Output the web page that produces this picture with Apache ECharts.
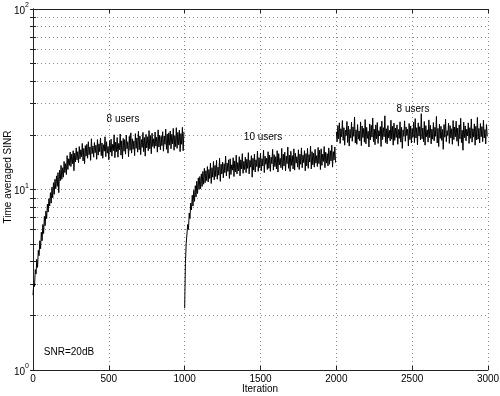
<!DOCTYPE html>
<html>
<head>
<meta charset="utf-8">
<script src="https://cdn.jsdelivr.net/npm/echarts@6/dist/echarts.min.js"></script>
<style>html,body{margin:0;padding:0;background:#fff}#c{width:500px;height:396px}</style>
</head>
<body>
<div id="c"></div>
<script>
// ---- data ----
const step = 5;
const seg1Start = 0;
const seg1 = [
2.6,3.0,2.9,3.6,3.4,4.1,3.7,4.6,4.3,5.2,
4.7,5.8,5.2,6.4,5.7,7.1,6.3,7.6,6.9,8.3,
7.5,8.9,8.1,9.6,8.4,10.3,9.0,10.9,9.4,11.4,
10.1,11.9,10.4,12.4,9.6,12.8,11.2,13.6,11.4,13.2,
11.7,14.3,12.4,13.9,12.1,15.4,12.9,14.8,13.6,16.1,
13.4,15.7,13.9,16.4,12.7,15.9,14.2,17.0,14.6,16.2,
14.1,17.3,14.8,16.6,15.2,18.0,14.4,16.9,13.9,17.5,
15.3,17.8,14.9,18.4,15.6,17.2,14.5,19.1,15.8,17.4,
15.1,18.2,16.0,17.6,14.7,18.9,15.5,17.9,16.2,19.3,
15.4,18.1,14.9,17.7,16.3,19.6,15.2,18.4,15.9,17.3,
14.6,18.7,16.1,19.0,15.3,17.8,16.4,20.1,15.0,18.3,
16.2,19.4,15.1,18.0,16.6,20.3,15.5,18.6,14.8,19.2,
16.3,18.9,15.7,20.0,16.8,18.4,15.2,19.7,16.5,20.6,
15.9,19.1,16.7,18.6,15.4,20.4,16.9,19.3,16.1,21.0,
16.6,19.8,15.6,18.9,17.1,20.7,16.2,19.4,15.3,20.2,
17.0,19.6,16.4,21.2,16.8,19.9,15.8,20.5,17.3,19.1,
16.9,20.8,17.4,19.5,16.1,21.4,17.2,20.0,16.6,19.7,
17.5,20.9,16.3,19.8,17.8,21.6,16.7,20.3,15.9,20.6,
17.6,21.1,16.8,20.2,17.9,21.8,16.5,19.9,17.3,22.0,
16.9,20.7,17.7,21.3,16.2,20.4,17.8,22.1,16.4,20.9];
const seg2Start = 1000;
const seg2 = [
2.2,3.9,5.0,5.1,6.4,6.0,7.4,6.9,8.4,7.7,
9.3,8.1,9.9,8.6,10.5,9.1,11.1,9.5,11.6,10.0,
11.8,10.1,12.2,10.4,12.6,10.7,13.1,10.9,12.7,11.2,
13.4,11.0,12.9,11.5,14.0,10.8,13.2,11.7,14.3,11.3,
13.6,11.8,14.5,11.4,13.3,12.0,14.9,11.1,13.8,12.2,
14.2,11.6,13.9,12.4,15.3,11.9,14.0,12.6,14.6,11.5,
14.8,12.1,13.7,12.8,15.0,11.8,14.4,12.5,15.5,12.2,
14.1,12.7,15.2,11.9,14.6,13.0,15.8,12.3,14.3,12.9,
15.1,12.4,14.7,13.1,16.0,12.2,14.5,13.3,15.4,11.7,
14.9,12.8,15.7,12.5,14.6,13.4,16.3,12.6,15.0,13.2,
15.9,12.7,14.8,13.5,16.5,12.4,15.3,13.8,14.9,12.9,
16.2,13.1,15.5,12.6,15.1,13.9,16.7,12.8,15.6,13.4,
15.2,13.0,16.4,12.5,15.8,13.7,14.9,13.2,16.9,12.9,
15.7,13.5,16.1,12.7,15.3,13.9,17.2,13.1,15.5,12.6,
16.3,13.6,15.4,13.0,16.8,12.8,15.9,14.0,15.2,13.3,
16.6,12.9,15.7,13.8,17.0,13.2,15.5,14.1,16.4,12.7,
15.8,13.5,16.9,13.1,15.6,14.2,17.4,13.0,16.2,13.7,
15.9,13.3,16.7,14.0,15.4,13.4,17.1,13.9,16.5,12.9,
16.8,13.6,15.7,14.3,17.3,13.2,16.1,14.0,15.8,13.5,
17.0,13.8,16.4,14.4,17.6,13.3,16.2,14.6,17.2,14.1];
const seg3Start = 2000;
const seg3 = [
20.9,18.4,22.6,19.1,23.4,18.0,21.7,19.6,24.1,18.7,
22.0,17.6,21.3,19.9,23.8,18.2,22.4,17.4,21.5,19.3,
23.6,18.5,22.2,19.7,25.2,18.1,21.4,17.8,22.9,19.0,
21.1,18.6,23.7,17.5,22.5,19.4,21.8,18.3,24.4,17.9,
22.1,19.2,21.0,17.2,23.1,18.8,22.7,19.5,24.9,18.4,
21.6,17.7,22.8,19.1,23.5,18.0,21.2,19.8,22.3,17.3,
23.9,18.9,22.0,19.6,25.6,18.2,21.7,17.9,22.6,19.3,
21.3,18.6,24.2,19.0,22.4,17.6,23.3,18.7,21.9,19.4,
22.8,17.8,21.5,19.2,23.7,18.3,22.1,16.9,21.4,19.7,
24.0,18.5,22.2,19.9,21.6,17.4,23.2,18.9,22.5,18.1,
21.8,19.5,23.6,18.2,24.7,19.3,22.0,17.7,23.4,19.8,
22.3,18.8,26.3,19.1,21.9,18.4,23.8,17.6,22.6,19.6,
21.4,18.3,24.3,19.4,22.7,17.9,21.6,19.0,23.5,18.6,
22.1,19.7,25.4,18.1,21.8,17.3,23.0,19.2,22.4,18.7,
21.5,16.7,22.9,19.5,24.5,18.4,21.2,19.9,23.3,18.0,
22.6,19.3,21.7,17.8,24.1,18.9,22.2,19.6,23.9,18.5,
21.9,17.4,22.8,19.1,24.8,18.2,21.3,16.5,23.6,19.4,
22.5,18.6,21.6,19.8,23.4,18.0,22.0,19.2,24.6,18.3,
21.7,19.5,23.1,17.6,22.4,18.8,25.1,19.0,21.8,18.1,
23.2,19.6,22.3,18.4,24.2,19.3,21.5,17.9,22.9,19.7];

const xTicks = [0, 500, 1000, 1500, 2000, 2500, 3000];
const yMajor = [1, 10, 100];
const yMinorMult = [1, 2, 3, 4, 5, 6, 7, 8, 9];

const annotations = [
  {text: '8 users', x: 123, y: 119},
  {text: '10 users', x: 263, y: 137},
  {text: '8 users', x: 413, y: 109},
  {text: 'SNR=20dB', x: 69, y: 352}
];

// ---- build ----
const yTickVals = [];
for (let d = 0; d < yMajor.length - 1; d++) {
  yMinorMult.forEach(m => yTickVals.push(yMajor[d] * m));
}
yTickVals.push(yMajor[yMajor.length - 1]);

function toPairs(arr, start) { return arr.map((v, i) => [start + i * step, v]); }

const FONT = 'Liberation Sans, Arial, sans-serif';
const axisCol = '#222';
const gridStyle = {color: '#8a8a8a', width: 1, type: [1, 3]};

const chart = echarts.init(document.getElementById('c'), null, {renderer: 'canvas'});
const lineStyle = {color: '#000', width: 1};
const mkSeries = (d) => ({type: 'line', data: d, showSymbol: false, symbol: 'none', lineStyle: lineStyle, animation: false, xAxisIndex: 0, yAxisIndex: 0});

const txt = (s, x, y, rot) => ({type: 'text', x: x, y: y, rotation: rot || 0,
  style: {text: s, font: '10px ' + FONT, fill: '#000', align: 'center', verticalAlign: 'middle'}});

chart.setOption({
  animation: false,
  grid: {left: 33, right: 12, top: 9, bottom: 26, containLabel: false, outerBoundsMode: 'none'},
  xAxis: [
    {type: 'value', min: 0, max: 3000, interval: 500, position: 'bottom',
     axisLine: {show: true, lineStyle: {color: axisCol, width: 1}},
     axisTick: {show: true, inside: true, length: 4, customValues: xTicks, lineStyle: {color: axisCol}},
     axisLabel: {customValues: xTicks, color: '#000', fontFamily: FONT, fontSize: 10, margin: 4, formatter: v => String(v)},
     splitLine: {show: true, lineStyle: gridStyle}},
    {type: 'value', min: 0, max: 3000, interval: 500, position: 'top',
     axisLine: {show: true, lineStyle: {color: axisCol, width: 1}},
     axisTick: {show: true, inside: true, length: 4, lineStyle: {color: axisCol}},
     axisLabel: {show: false}, splitLine: {show: false}}
  ],
  yAxis: [
    {type: 'log', logBase: 10, min: 1, max: 100, position: 'left',
     axisLine: {show: true, lineStyle: {color: axisCol, width: 1}},
     axisTick: {show: true, inside: true, length: 3, customValues: yTickVals, lineStyle: {color: axisCol}},
     axisLabel: {customValues: yMajor, margin: 4, fontFamily: FONT, color: '#000',
       formatter: v => '{b|10}{s|' + Math.round(Math.log10(v)) + '}',
       rich: {b: {fontSize: 10, fontFamily: FONT, color: '#000', lineHeight: 14, verticalAlign: 'bottom'},
              s: {fontSize: 7, fontFamily: FONT, color: '#000', lineHeight: 14, verticalAlign: 'top'}}},
     splitLine: {show: true, lineStyle: gridStyle}},
    {type: 'log', logBase: 10, min: 1, max: 100, position: 'right',
     axisLine: {show: true, lineStyle: {color: axisCol, width: 1}},
     axisTick: {show: true, inside: true, length: 3, customValues: yTickVals, lineStyle: {color: axisCol}},
     axisLabel: {show: false}, splitLine: {show: false}}
  ],
  graphic: [txt('Time averaged SINR', 8, 177, Math.PI / 2), txt('Iteration', 260, 389)]
    .concat(annotations.map(a => txt(a.text, a.x, a.y))),
  series: [mkSeries(toPairs(seg1, seg1Start)), mkSeries(toPairs(seg2, seg2Start)), mkSeries(toPairs(seg3, seg3Start))]
});
</script>
</body>
</html>
